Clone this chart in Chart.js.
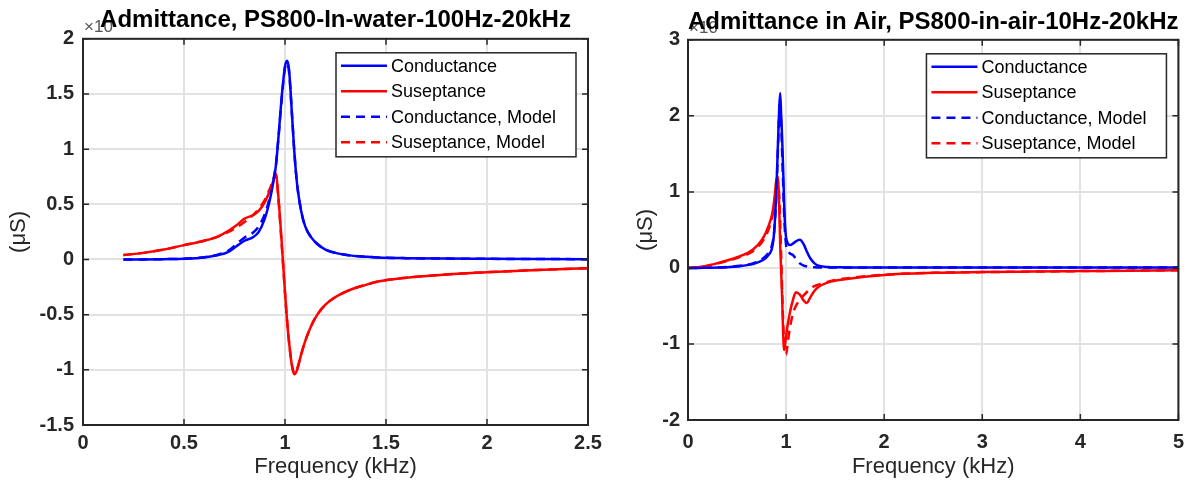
<!DOCTYPE html>
<html lang="en">
<head>
    <meta charset="UTF-8">
    <title>Admittance</title>
    <script src="https://cdn.jsdelivr.net/npm/chart.js"></script>
    <style>
        body {
            margin: 0;
            background: #fff;
            width: 1194px;
            height: 491px;
            position: relative;
            overflow: hidden;
        }
        .panel {
            position: absolute;
            top: 0;
            height: 491px;
        }
        #waterPanel { left: 0; width: 612px; z-index: 2; }
        #airPanel { left: 597px; width: 597px; z-index: 1; }
    </style>
</head>
<body>
    <div class="panel" id="waterPanel"><canvas id="waterChart" width="612" height="491"></canvas></div>
    <div class="panel" id="airPanel"><canvas id="airChart" width="597" height="491"></canvas></div>

    <script>
        const seriesLabels = ['Conductance', 'Suseptance', 'Conductance, Model', 'Suseptance, Model'];

        // in water, frequency in kHz, values in uS (x10^-4 scale as in the plot)
        const waterFreq = [0.2, 0.3, 0.4, 0.5, 0.6, 0.67, 0.72, 0.76, 0.8, 0.84, 0.87, 0.9, 0.92, 0.94, 0.955, 0.965, 0.985, 1.0, 1.01, 1.02, 1.035, 1.046, 1.06, 1.08, 1.1, 1.13, 1.16, 1.2, 1.25, 1.33, 1.4, 1.46, 1.6, 1.8, 2.0, 2.25, 2.5];
        const waterG = [0.0, 0.001, 0.003, 0.006, 0.018, 0.04, 0.07, 0.12, 0.17, 0.2, 0.25, 0.37, 0.5, 0.68, 0.85, 1.05, 1.5, 1.75, 1.80, 1.72, 1.3, 0.98, 0.68, 0.44, 0.30, 0.2, 0.14, 0.09, 0.06, 0.035, 0.025, 0.018, 0.012, 0.008, 0.006, 0.004, 0.003];
        const waterB = [0.04, 0.06, 0.09, 0.13, 0.17, 0.21, 0.26, 0.31, 0.37, 0.40, 0.44, 0.52, 0.6, 0.7, 0.78, 0.62, 0.12, -0.3, -0.55, -0.75, -0.97, -1.04, -1.0, -0.86, -0.74, -0.6, -0.5, -0.41, -0.34, -0.27, -0.23, -0.2, -0.165, -0.135, -0.115, -0.095, -0.08];
        const waterGModel = [0.0, 0.001, 0.003, 0.007, 0.02, 0.045, 0.08, 0.14, 0.2, 0.24, 0.3, 0.41, 0.53, 0.7, 0.86, 1.05, 1.48, 1.74, 1.78, 1.7, 1.3, 0.98, 0.68, 0.44, 0.30, 0.2, 0.14, 0.09, 0.06, 0.035, 0.025, 0.018, 0.012, 0.008, 0.006, 0.004, 0.003];
        const waterBModel = [0.04, 0.06, 0.09, 0.13, 0.17, 0.21, 0.25, 0.29, 0.34, 0.40, 0.46, 0.54, 0.62, 0.71, 0.77, 0.6, 0.1, -0.3, -0.55, -0.75, -0.96, -1.03, -0.99, -0.86, -0.74, -0.6, -0.5, -0.41, -0.34, -0.27, -0.23, -0.2, -0.165, -0.135, -0.115, -0.095, -0.08];
        const waterXTicks = [0, 0.5, 1, 1.5, 2, 2.5];
        const waterYTicks = [-1.5, -1, -0.5, 0, 0.5, 1, 1.5, 2];

        // in air
        const airFreq = [0, 0.1, 0.2, 0.32, 0.5, 0.66, 0.76, 0.82, 0.86, 0.88, 0.9, 0.915, 0.93, 0.94, 0.95, 0.96, 0.97, 0.98, 0.99, 1.0, 1.02, 1.04, 1.07, 1.1, 1.14, 1.18, 1.21, 1.25, 1.29, 1.33, 1.43, 1.6, 2.0, 2.5, 3, 3.5, 4, 4.5, 5];
        const airG = [0, 0, 0.002, 0.005, 0.02, 0.05, 0.1, 0.17, 0.28, 0.5, 1.0, 1.55, 2.1, 2.3, 2.0, 1.7, 1.3, 0.85, 0.55, 0.4, 0.32, 0.3, 0.32, 0.35, 0.37, 0.31, 0.22, 0.12, 0.06, 0.03, 0.012, 0.007, 0.005, 0.005, 0.004, 0.004, 0.004, 0.004, 0.004];
        const airB = [0, 0.01, 0.03, 0.07, 0.14, 0.24, 0.38, 0.55, 0.72, 0.9, 1.15, 1.2, 0.8, 0.3, -0.05, -0.4, -0.85, -1.08, -1.0, -0.9, -0.72, -0.58, -0.42, -0.32, -0.35, -0.43, -0.46, -0.38, -0.3, -0.25, -0.19, -0.15, -0.092, -0.065, -0.055, -0.048, -0.042, -0.036, -0.03];
        const airGModel = [0, 0, 0.003, 0.006, 0.025, 0.06, 0.12, 0.2, 0.32, 0.5, 0.95, 1.5, 2.05, 2.2, 1.9, 1.5, 1.1, 0.7, 0.45, 0.3, 0.22, 0.19, 0.17, 0.12, 0.06, 0.03, 0.02, 0.012, 0.008, 0.006, 0.005, 0.005, 0.004, 0.004, 0.004, 0.004, 0.004, 0.004, 0.004];
        const airBModel = [0, 0.01, 0.03, 0.065, 0.13, 0.22, 0.35, 0.5, 0.68, 0.85, 1.05, 1.12, 0.95, 0.6, 0.15, -0.3, -0.7, -0.98, -1.12, -1.14, -0.95, -0.78, -0.6, -0.5, -0.42, -0.36, -0.32, -0.27, -0.24, -0.22, -0.18, -0.14, -0.09, -0.065, -0.055, -0.048, -0.042, -0.036, -0.03];
        const airXTicks = [0, 1, 2, 3, 4, 5];
        const airYTicks = [-2, -1, 0, 1, 2, 3];

        const FONT = "'Liberation Sans', Arial, sans-serif";
        const AXIS_COLOR = '#262626';

        function pts(xs, ys) {
            return xs.map((x, i) => ({ x: x, y: ys[i] }));
        }

        // matlab style box + inward ticks + legend box + x10 exponent
        const matlabPlugin = {
            id: 'matlabBox',
            beforeDraw(chart) {
                const ctx = chart.ctx;
                const a = chart.chartArea;
                ctx.save();
                ctx.fillStyle = '#555';
                ctx.font = '17px ' + FONT;
                ctx.textBaseline = 'alphabetic';
                ctx.fillText('\u00d710', a.left + 1, a.top - 7);
                ctx.restore();
            },
            afterDraw(chart) {
                const ctx = chart.ctx;
                const a = chart.chartArea;
                const xs = chart.scales.x, ys = chart.scales.y;
                ctx.save();
                ctx.strokeStyle = AXIS_COLOR;
                ctx.lineWidth = 1.5;
                ctx.beginPath();
                xs.ticks.forEach(t => {
                    const px = xs.getPixelForValue(t.value);
                    ctx.moveTo(px, a.bottom); ctx.lineTo(px, a.bottom - 6);
                    ctx.moveTo(px, a.top); ctx.lineTo(px, a.top + 6);
                });
                ys.ticks.forEach(t => {
                    const py = ys.getPixelForValue(t.value);
                    ctx.moveTo(a.left, py); ctx.lineTo(a.left + 6, py);
                    ctx.moveTo(a.right, py); ctx.lineTo(a.right - 6, py);
                });
                ctx.stroke();
                ctx.lineWidth = 2;
                ctx.strokeRect(a.left, a.top, a.right - a.left, a.bottom - a.top);

                // legend in the upper right corner
                const boxW = 240, boxH = 104;
                const bx = a.right - 252, by = a.top + 14;
                ctx.fillStyle = '#fff';
                ctx.fillRect(bx, by, boxW, boxH);
                ctx.lineWidth = 1.5;
                ctx.strokeRect(bx, by, boxW, boxH);
                ctx.font = '18px ' + FONT;
                ctx.textBaseline = 'middle';
                chart.data.datasets.forEach((ds, i) => {
                    const y = by + 13 + i * 25.5;
                    ctx.strokeStyle = ds.borderColor;
                    ctx.lineWidth = 2.5;
                    ctx.setLineDash(ds.borderDash || []);
                    ctx.beginPath();
                    ctx.moveTo(bx + 5, y);
                    ctx.lineTo(bx + 51, y);
                    ctx.stroke();
                    ctx.setLineDash([]);
                    ctx.fillStyle = '#000';
                    ctx.fillText(ds.label, bx + 55, y + 1);
                });
                ctx.restore();
            }
        };

        function makeChart(id, opts) {
            const ctx = document.getElementById(id).getContext('2d');
            const datasets = [
                { label: seriesLabels[0], data: pts(opts.freq, opts.g), borderColor: '#0000ff' },
                { label: seriesLabels[1], data: pts(opts.freq, opts.b), borderColor: '#ff0000' },
                { label: seriesLabels[2], data: pts(opts.freq, opts.gModel), borderColor: '#0000ff', borderDash: [9, 6] },
                { label: seriesLabels[3], data: pts(opts.freq, opts.bModel), borderColor: '#ff0000', borderDash: [9, 6] }
            ].map(ds => Object.assign(ds, {
                borderWidth: 2.5,
                pointRadius: 0,
                fill: false,
                cubicInterpolationMode: 'monotone'
            }));

            return new Chart(ctx, {
                type: 'line',
                data: { datasets: datasets },
                options: {
                    responsive: false,
                    animation: false,
                    layout: { padding: { left: 0, right: opts.padRight, top: 0, bottom: 0 } },
                    plugins: {
                        legend: { display: false },
                        tooltip: { enabled: false },
                        title: {
                            display: true,
                            text: opts.title,
                            fullSize: false,
                            color: '#000',
                            font: { family: FONT, size: 24, weight: 'bold' },
                            padding: { top: opts.titleTop, bottom: opts.titleBottom }
                        }
                    },
                    scales: {
                        x: {
                            type: 'linear',
                            min: opts.xTicks[0],
                            max: opts.xTicks[opts.xTicks.length - 1],
                            afterBuildTicks: s => { s.ticks = opts.xTicks.map(v => ({ value: v })); },
                            afterFit: s => { s.height = opts.xHeight; },
                            border: { display: false },
                            grid: { color: '#e2e2e2', lineWidth: 2, drawTicks: false },
                            ticks: {
                                color: AXIS_COLOR,
                                padding: opts.xTickPad,
                                maxRotation: 0,
                                callback: v => String(v),
                                font: { family: FONT, size: 20, weight: 'bold' }
                            },
                            title: {
                                display: true,
                                text: 'Frequency (kHz)',
                                color: AXIS_COLOR,
                                font: { family: FONT, size: 22 },
                                padding: { top: 0, bottom: 11 }
                            }
                        },
                        y: {
                            type: 'linear',
                            min: opts.yTicks[0],
                            max: opts.yTicks[opts.yTicks.length - 1],
                            afterBuildTicks: s => { s.ticks = opts.yTicks.map(v => ({ value: v })); },
                            afterFit: s => { s.width = opts.yWidth; },
                            border: { display: false },
                            grid: { color: '#e2e2e2', lineWidth: 2, drawTicks: false },
                            ticks: {
                                color: AXIS_COLOR,
                                padding: opts.yTickPad,
                                callback: v => String(v),
                                font: { family: FONT, size: 20, weight: 'bold' }
                            },
                            title: {
                                display: true,
                                text: '(\u03bcS)',
                                color: AXIS_COLOR,
                                font: { family: FONT, size: 22 },
                                padding: { top: opts.yTitlePad, bottom: 0 }
                            }
                        }
                    }
                },
                plugins: [matlabPlugin]
            });
        }

        makeChart('waterChart', {
            title: 'Admittance, PS800-In-water-100Hz-20kHz',
            freq: waterFreq, g: waterG, b: waterB, gModel: waterGModel, bModel: waterBModel,
            xTicks: waterXTicks, yTicks: waterYTicks,
            padRight: 24, yWidth: 83, xHeight: 66,
            titleTop: 6, titleBottom: 4,
            xTickPad: 6, yTickPad: 9, yTitlePad: 6
        });

        makeChart('airChart', {
            title: 'Admittance in Air, PS800-in-air-10Hz-20kHz',
            freq: airFreq, g: airG, b: airB, gModel: airGModel, bModel: airBModel,
            xTicks: airXTicks, yTicks: airYTicks,
            padRight: 8, yWidth: 91, xHeight: 71,
            titleTop: 8, titleBottom: 3,
            xTickPad: 10, yTickPad: 8, yTitlePad: 36
        });
    </script>
</body>
</html>
